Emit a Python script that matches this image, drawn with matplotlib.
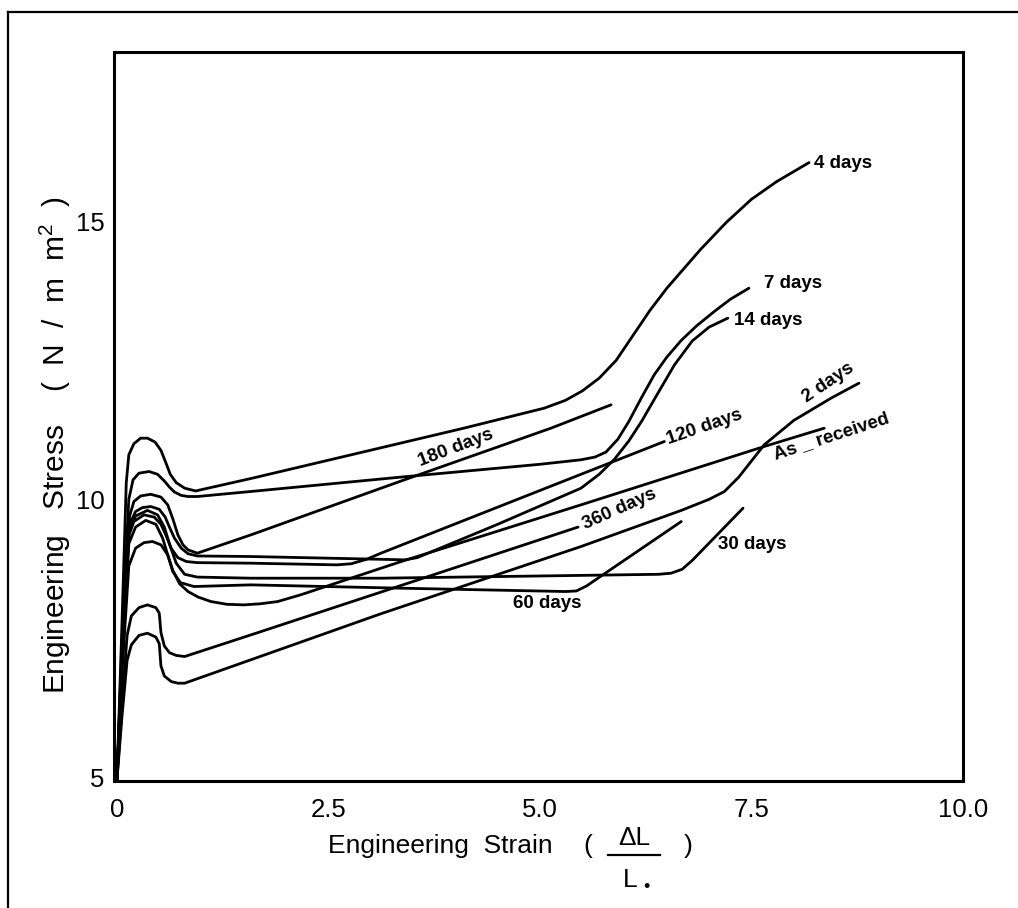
import matplotlib
matplotlib.use('Agg')
import matplotlib.pyplot as plt
from matplotlib.lines import Line2D

# ---------------- data ----------------
strain_4d = [0, 0.06, 0.11, 0.14, 0.20, 0.28, 0.36, 0.45, 0.52, 0.58, 0.63, 0.70, 0.80, 0.93,
             1.6, 3.1, 4.1, 5.05, 5.3, 5.5, 5.7, 5.9, 6.1, 6.3, 6.5, 6.7, 6.9, 7.2, 7.5, 7.8, 8.18]
stress_4d = [4.95, 7.8, 10.3, 10.8, 11.0, 11.1, 11.1, 11.03, 10.88, 10.65, 10.45, 10.3, 10.2, 10.15,
             10.38, 10.92, 11.28, 11.64, 11.78, 11.95, 12.18, 12.5, 12.95, 13.4, 13.8, 14.15, 14.5,
             14.98, 15.4, 15.72, 16.06]

strain_7d = [0, 0.06, 0.14, 0.19, 0.26, 0.38, 0.48, 0.56, 0.62, 0.68, 0.76, 0.84, 0.95, 1.58,
             3.36, 5.0, 5.48, 5.65, 5.78, 5.92, 6.05, 6.2, 6.35, 6.5, 6.67, 6.85, 7.06, 7.25, 7.47]
stress_7d = [4.95, 7.5, 10.0, 10.35, 10.47, 10.50, 10.45, 10.33, 10.22, 10.13, 10.07, 10.05, 10.05,
             10.14, 10.40, 10.63, 10.71, 10.76, 10.85, 11.08, 11.40, 11.83, 12.24, 12.56, 12.86,
             13.12, 13.38, 13.6, 13.8]

strain_180d = [0, 0.06, 0.15, 0.20, 0.28, 0.40, 0.52, 0.60, 0.66, 0.72, 0.78, 0.84, 0.95, 1.584,
               3.36, 5.13, 5.84]
stress_180d = [4.95, 7.3, 9.7, 9.96, 10.06, 10.09, 10.04, 9.90, 9.65, 9.36, 9.18, 9.09, 9.03, 9.36,
               10.33, 11.28, 11.70]

strain_14d = [0, 0.06, 0.15, 0.22, 0.30, 0.40, 0.50, 0.57, 0.62, 0.68, 0.76, 0.84, 0.95, 1.584,
              3.12, 3.40, 3.55, 4.5, 5.485, 5.7, 5.88, 6.05, 6.2, 6.39, 6.59, 6.8, 7.0, 7.22]
stress_14d = [4.95, 7.2, 9.55, 9.78, 9.85, 9.87, 9.82, 9.68, 9.50, 9.30, 9.12, 9.02, 8.98, 8.97,
              8.92, 8.91, 8.95, 9.55, 10.20, 10.45, 10.72, 11.05, 11.40, 11.90, 12.42, 12.85,
              13.1, 13.26]

strain_120d = [0, 0.06, 0.14, 0.20, 0.32, 0.44, 0.52, 0.58, 0.64, 0.72, 0.82, 0.95, 1.584, 2.6,
               2.77, 2.95, 3.12, 5.485, 6.47]
stress_120d = [4.95, 7.1, 9.35, 9.6, 9.72, 9.68, 9.55, 9.35, 9.12, 8.95, 8.88, 8.86, 8.85, 8.82,
               8.84, 8.92, 9.03, 10.45, 11.04]

strain_30d = [0, 0.06, 0.14, 0.22, 0.36, 0.48, 0.56, 0.62, 0.70, 0.80, 0.95, 1.584, 3.12, 5.0,
              6.4, 6.55, 6.68, 6.8, 7.40]
stress_30d = [4.95, 7.1, 9.4, 9.7, 9.80, 9.72, 9.5, 9.2, 8.85, 8.65, 8.60, 8.58, 8.58, 8.62,
              8.65, 8.67, 8.74, 8.9, 9.84]

strain_60d = [0, 0.06, 0.14, 0.22, 0.34, 0.46, 0.54, 0.60, 0.66, 0.75, 0.91, 1.584, 3.36, 5.3,
              5.43, 5.55, 6.67]
stress_60d = [4.95, 7.0, 9.2, 9.5, 9.62, 9.55, 9.3, 9.0, 8.7, 8.5, 8.43, 8.46, 8.40, 8.34,
              8.35, 8.44, 9.6]

strain_asr = [0, 0.06, 0.14, 0.22, 0.32, 0.42, 0.52, 0.60, 0.66, 0.74, 0.84, 0.96, 1.11, 1.30,
              1.50, 1.70, 1.90, 2.17, 3.36, 5.485, 7.65, 8.36]
stress_asr = [4.95, 6.9, 8.8, 9.12, 9.22, 9.24, 9.18, 9.0, 8.72, 8.48, 8.34, 8.24, 8.16, 8.11,
              8.10, 8.12, 8.16, 8.28, 8.88, 9.90, 10.95, 11.28]

strain_360d = [0, 0.06, 0.12, 0.17, 0.26, 0.36, 0.46, 0.50, 0.52, 0.56, 0.62, 0.70, 0.80, 1.584,
               3.36, 5.45]
stress_360d = [4.95, 6.3, 7.55, 7.9, 8.05, 8.10, 8.05, 7.95, 7.6, 7.36, 7.24, 7.19, 7.17, 7.56,
               8.45, 9.5]

strain_2d = [0, 0.06, 0.12, 0.17, 0.26, 0.36, 0.46, 0.50, 0.52, 0.56, 0.64, 0.72, 0.80, 3.12,
             5.485, 6.67, 7.0, 7.18, 7.35, 7.65, 8.0, 8.44, 8.77]
stress_2d = [4.95, 6.1, 7.1, 7.38, 7.55, 7.59, 7.52, 7.40, 7.0, 6.82, 6.72, 6.69, 6.69, 7.94,
             9.15, 9.80, 10.0, 10.14, 10.40, 10.98, 11.42, 11.82, 12.09]

x_ticks = [0, 2.5, 5.0, 7.5, 10.0]
x_ticklabels = ['0', '2.5', '5.0', '7.5', '10.0']
y_ticks = [5, 10, 15]
y_ticklabels = ['5', '10', '15']

# curve labels
label_texts = ['4 days', '7 days', '14 days', '2 days', 'As _ received', '120 days',
               '180 days', '360 days', '60 days', '30 days']
label_x = [8.24, 7.65, 7.29, 8.12, 7.77, 6.50, 4.00, 5.94, 5.09, 7.51]
label_y = [16.04, 13.88, 13.22, 11.80, 10.80, 11.06, 10.92, 9.83, 8.13, 9.18]
label_rot = [0, 0, 0, 34, 18, 19, 21, 24, 0, 0]
label_ha = ['left', 'left', 'left', 'left', 'left', 'left', 'center', 'center', 'center', 'center']

# ---------------- figure ----------------
plt.rcParams['font.family'] = ['Liberation Sans', 'DejaVu Sans']
plt.rcParams['mathtext.fontset'] = 'custom'
plt.rcParams['mathtext.rm'] = 'Liberation Sans'
plt.rcParams['mathtext.it'] = 'Liberation Sans'
TICK_FS = 18.5
AX_FS = 19
LAB_FS = 13.5

W, H = 1018, 908
fig = plt.figure(figsize=(W / 100, H / 100), dpi=100)
ax = fig.add_axes([114 / W, 1 - 781 / H, (963 - 114) / W, (781 - 52) / H])
ax.set_xlim(-0.035, 10.0)
ax.set_ylim(4.93, 18.05)

curves = [(strain_4d, stress_4d), (strain_7d, stress_7d), (strain_180d, stress_180d),
          (strain_14d, stress_14d), (strain_120d, stress_120d), (strain_30d, stress_30d),
          (strain_60d, stress_60d), (strain_asr, stress_asr), (strain_360d, stress_360d),
          (strain_2d, stress_2d)]
for xs, ys in curves:
    ax.plot(xs, ys, color='black', lw=2.0, solid_joinstyle='round', solid_capstyle='round',
            clip_on=False)

for t, x, y, r, ha in zip(label_texts, label_x, label_y, label_rot, label_ha):
    ax.text(x, y, t, rotation=r, ha=ha, va='center', rotation_mode='anchor',
            fontsize=LAB_FS, fontweight='bold', color='black')

for s in ax.spines.values():
    s.set_linewidth(2.2)
    s.set_color('black')

ax.set_xticks(x_ticks)
ax.set_xticklabels(x_ticklabels)
ax.set_yticks(y_ticks)
ax.set_yticklabels(y_ticklabels)
ax.tick_params(axis='x', which='major', length=0, pad=12, labelsize=TICK_FS)
ax.tick_params(axis='y', which='major', length=0, pad=7, labelsize=TICK_FS)
ax.set_xticks([2.5, 5.0, 7.5], minor=True)
ax.set_yticks([10, 15], minor=True)
ax.tick_params(axis='x', which='minor', direction='in', length=47, width=1.6)
ax.tick_params(axis='y', which='minor', direction='in', length=19.5, width=1.6)

# axis titles
fig.text(55 / W, 1 - 445 / H, 'Engineering   Stress    (  N  /  m  m$^{2}$  )', rotation=90,
         ha='center', va='center', fontsize=21.5)
fig.text(440 / W, 1 - 846 / H, 'Engineering  Strain', ha='center', va='center', fontsize=AX_FS)
fig.text(588 / W, 1 - 846 / H, '(', ha='center', va='center', fontsize=AX_FS)
fig.text(634 / W, 1 - 838 / H, '\u0394L', ha='center', va='center', fontsize=AX_FS)
fig.text(630 / W, 1 - 880 / H, 'L', ha='center', va='center', fontsize=AX_FS)
fig.text(646 / W, 1 - 888 / H, '\u2022', ha='center', va='center', fontsize=13)
fig.text(688 / W, 1 - 846 / H, ')', ha='center', va='center', fontsize=AX_FS)
fig.add_artist(Line2D([608 / W, 660 / W], [1 - 855 / H, 1 - 855 / H], color='black', lw=1.6))

# outer frame of the scanned figure
fig.add_artist(Line2D([8 / W, 8 / W], [0, 1 - 12 / H], color='black', lw=1.6))
fig.add_artist(Line2D([8 / W, 1], [1 - 12 / H, 1 - 12 / H], color='black', lw=1.6))

fig.savefig('out.png', dpi=100)
